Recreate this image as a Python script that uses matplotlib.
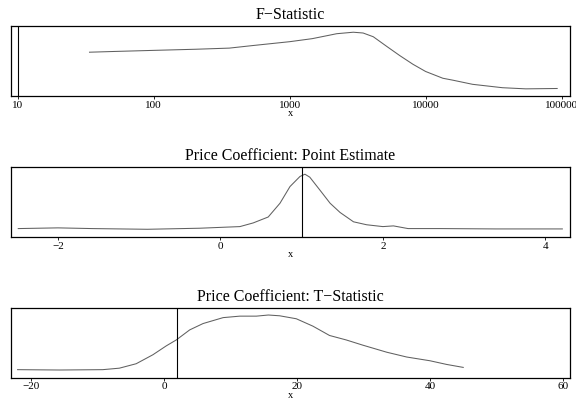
import numpy as np
import matplotlib
matplotlib.use("Agg")
import matplotlib.pyplot as plt
import matplotlib.ticker as ticker

plt.rcParams['font.family'] = ['Liberation Serif', 'DejaVu Serif']

# F-statistic density (x in log10 units)
f_logx = [1.527, 1.70, 2.0, 2.31, 2.556, 2.727, 3.0, 3.166, 3.29, 3.346,
          3.468, 3.54, 3.615, 3.712, 3.81, 3.907, 4.0, 4.127, 4.2, 4.346,
          4.566, 4.737, 4.968]
f_dens = [0.626, 0.636, 0.652, 0.668, 0.684, 0.72, 0.775, 0.818, 0.866, 0.888,
          0.909, 0.898, 0.845, 0.711, 0.578, 0.455, 0.353, 0.257, 0.23, 0.171,
          0.123, 0.107, 0.112]
f_ref = 10
f_ticks = [10, 100, 1000, 10000, 100000]

# price coefficient point estimate density
p_x = [-2.49, -2.0, -1.58, -0.9, -0.255, 0.0, 0.239, 0.403, 0.588, 0.733,
       0.856, 0.979, 1.04, 1.10, 1.226, 1.35, 1.473, 1.638, 1.80, 2.0, 2.13,
       2.31, 2.71, 3.39, 4.21]
p_dens = [0.125, 0.135, 0.125, 0.115, 0.13, 0.142, 0.153, 0.205, 0.289, 0.484,
          0.72, 0.863, 0.895, 0.853, 0.668, 0.484, 0.353, 0.221, 0.179, 0.153,
          0.163, 0.125, 0.125, 0.12, 0.12]
p_ref = 1.0
p_ticks = [-2, 0, 2, 4]

# price coefficient t-statistic density
t_x = [-22.0, -15.7, -9.2, -6.7, -4.17, -1.66, 0.35, 1.86, 3.87, 5.88, 8.9,
       11.4, 13.9, 15.7, 17.4, 19.9, 22.4, 24.9, 27.4, 29.9, 33.5, 36.5,
       40.0, 42.5, 45.0]
t_dens = [0.121, 0.116, 0.121, 0.142, 0.205, 0.332, 0.458, 0.542, 0.684,
          0.774, 0.858, 0.879, 0.879, 0.895, 0.884, 0.842, 0.737, 0.605,
          0.542, 0.468, 0.368, 0.30, 0.247, 0.195, 0.153]
t_ref = 2.0
t_ticks = [-20, 0, 20, 40, 60]

fig = plt.figure(figsize=(5.76, 4.0), dpi=100)

panels = [
    ("F\u2212Statistic", np.power(10.0, f_logx), f_dens, f_ref, f_ticks,
     (10 ** 0.949, 10 ** 5.06), True, 0.759),
    ("Price Coefficient: Point Estimate", p_x, p_dens, p_ref, p_ticks,
     (-2.58, 4.30), False, 0.4065),
    ("Price Coefficient: T\u2212Statistic", t_x, t_dens, t_ref, t_ticks,
     (-23.0, 61.0), False, 0.0545),
]

for title, xs, ys, ref, ticks, xlim, logx, bottom in panels:
    ax = fig.add_axes([0.019, bottom, 0.970, 0.1765])
    ax.plot(xs, ys, color='#606060', linewidth=0.75)
    ax.axvline(ref, color='black', linewidth=0.8)
    if logx:
        ax.set_xscale('log')
        ax.xaxis.set_minor_locator(ticker.NullLocator())
    ax.set_xlim(*xlim)
    ax.set_ylim(0, 1)
    ax.set_xticks(ticks)
    ax.set_xticklabels([str(t).replace('-', '\u2212') for t in ticks])
    ax.set_yticks([])
    ax.tick_params(axis='x', labelsize=8, length=2.5, width=0.6, pad=0.5)
    ax.set_xlabel('x', fontsize=7.5, labelpad=-0.5)
    ax.set_title(title, fontsize=11.5, pad=5)
    for s in ax.spines.values():
        s.set_linewidth(0.9)

fig.savefig('out.png', dpi=100)
